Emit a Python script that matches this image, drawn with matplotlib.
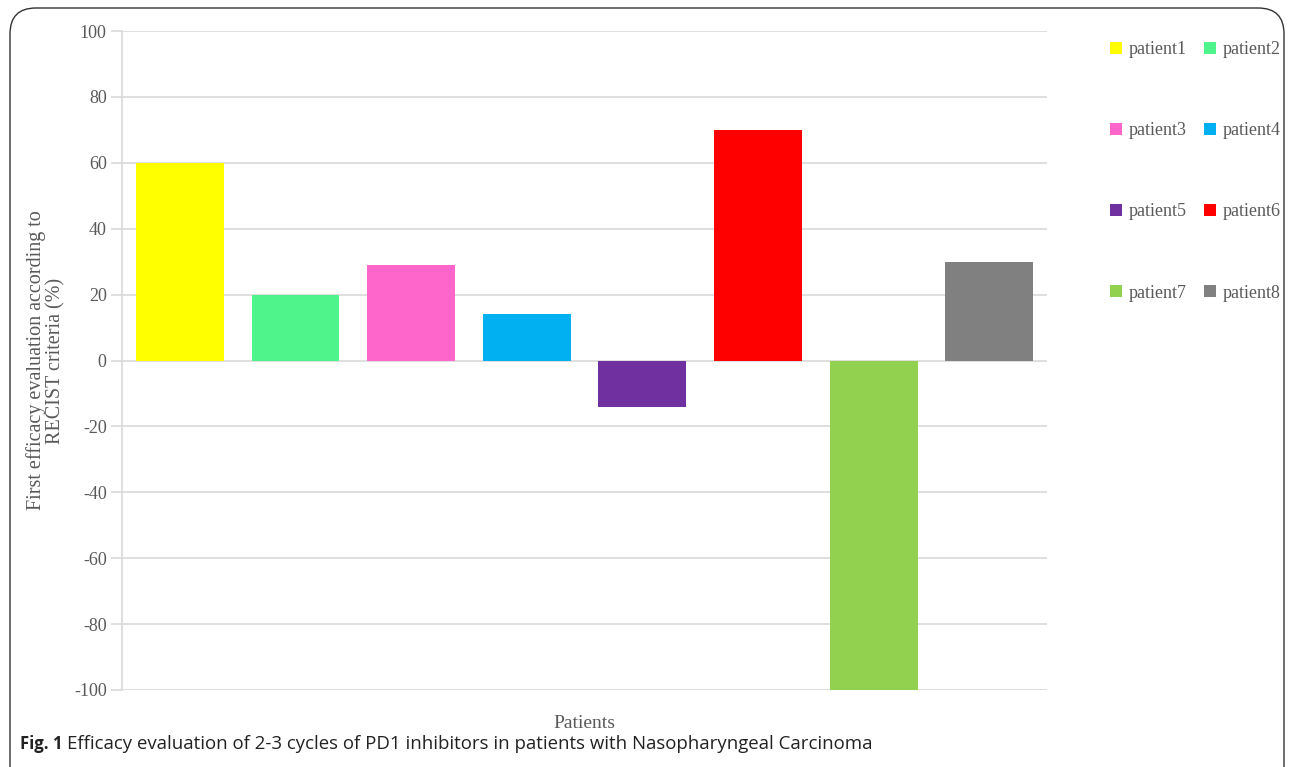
import matplotlib.pyplot as plt
from matplotlib.patches import FancyBboxPatch, Patch

# chart data
patients = ['patient1', 'patient2', 'patient3', 'patient4',
            'patient5', 'patient6', 'patient7', 'patient8']
values = [60, 20, 29, 14, -14, 70, -100, 30]
colors = ['#ffff00', '#4ff58a', '#ff66cc', '#00b0f0',
          '#7030a0', '#ff0000', '#92d050', '#808080']
yticks = [-100, -80, -60, -40, -20, 0, 20, 40, 60, 80, 100]

grid_c = '#d9d9d9'
text_c = '#595959'
serif = ['Liberation Serif', 'DejaVu Serif']

fig = plt.figure(figsize=(12.95, 7.67), dpi=100)

# rounded frame around the figure
frame = FancyBboxPatch((10 / 1295, -0.05), 1274 / 1295, 1 - 8 / 767 + 0.05,
                       boxstyle='round,pad=0,rounding_size=0.02',
                       transform=fig.transFigure, fill=False,
                       edgecolor='#333333', linewidth=1.0, mutation_aspect=1.69)
fig.patches.append(frame)

ax = fig.add_axes([122 / 1295, 1 - 690 / 767, 925 / 1295, 659 / 767])
x = list(range(len(patients)))
ax.bar(x, values, width=0.76, color=colors, zorder=3)

ax.set_xlim(-0.5, 7.5)
ax.set_ylim(-100, 100)
ax.set_yticks(yticks)
ax.set_yticklabels([str(v) for v in yticks], family=serif, fontsize=13, color=text_c)
ax.set_xticks([])
ax.grid(axis='y', color=grid_c, linewidth=1.2, zorder=0)
for s in ['top', 'right', 'bottom']:
    ax.spines[s].set_visible(False)
ax.spines['left'].set_color(grid_c)
ax.spines['left'].set_linewidth(1.2)
ax.tick_params(axis='y', length=8, color=grid_c, width=1.2, pad=3)

ax.set_ylabel('First efficacy evaluation according to\nRECIST criteria (%)',
              family=serif, fontsize=14.5, color=text_c, labelpad=6, linespacing=1.05)
ax.set_xlabel('Patients', family=serif, fontsize=14, color=text_c, labelpad=18)

# legend filled row by row: patient1 patient2 / patient3 patient4 ...
order = [0, 2, 4, 6, 1, 3, 5, 7]
handles = [Patch(facecolor=colors[i], edgecolor='none') for i in order]
labels = [patients[i] for i in order]
leg = fig.legend(handles, labels, ncol=2, loc='upper left',
                 bbox_to_anchor=(1094 / 1295, 1 - 25 / 767), frameon=False,
                 prop={'family': serif, 'size': 13}, labelcolor=text_c,
                 handlelength=0.65, handleheight=0.65, handletextpad=0.35,
                 columnspacing=1.0, labelspacing=3.55)

cap_font = ['Open Sans', 'DejaVu Sans']
fig.text(20 / 1295, 1 - 744 / 767, 'Fig. 1', family=cap_font, fontsize=12,
         fontweight='bold', color='#222222', va='center')
fig.text(67 / 1295, 1 - 744 / 767,
         'Efficacy evaluation of 2-3 cycles of PD1 inhibitors in patients with Nasopharyngeal Carcinoma',
         family=cap_font, fontsize=13.4, color='#222222', va='center')

fig.savefig('out.png', dpi=100)
